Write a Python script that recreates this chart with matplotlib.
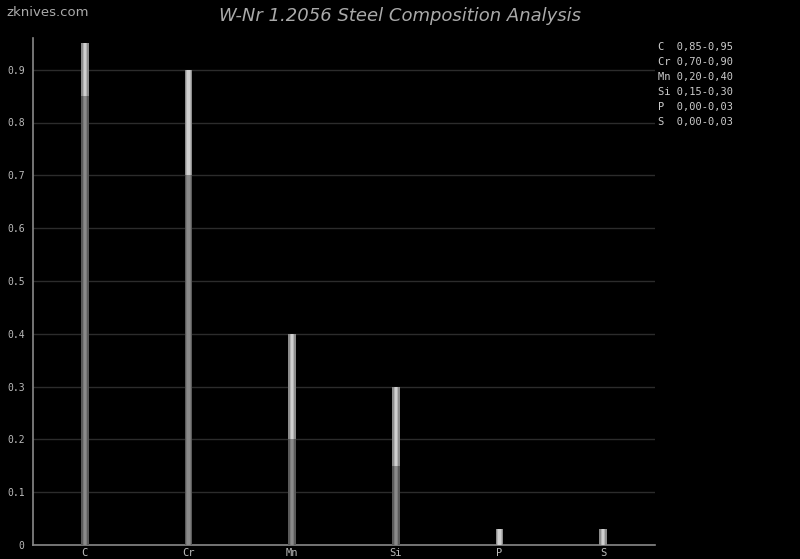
import matplotlib
matplotlib.use("Agg")
import matplotlib.pyplot as plt
import numpy as np

elements = ["C", "Cr", "Mn", "Si", "P", "S"]
min_vals = [0.85, 0.70, 0.20, 0.15, 0.00, 0.00]
max_vals = [0.95, 0.90, 0.40, 0.30, 0.03, 0.03]
legend_labels = ["C  0,85-0,95", "Cr 0,70-0,90", "Mn 0,20-0,40",
                 "Si 0,15-0,30", "P  0,00-0,03", "S  0,00-0,03"]
yticks = [0, 0.1, 0.2, 0.3, 0.4, 0.5, 0.6, 0.7, 0.8, 0.9]
ytick_labels = ["0", "0.1", "0.2", "0.3", "0.4", "0.5", "0.6", "0.7", "0.8", "0.9"]

fig = plt.figure(figsize=(8, 5.59), dpi=100, facecolor="black")
ax = fig.add_axes([33/800, 14/559, 622/800, (545-38)/559])
ax.set_facecolor("black")

x = np.arange(len(elements))
mins = np.array(min_vals)
ranges = np.array(max_vals) - mins

# lower (min) part, cylinder-like shading
ax.bar(x, mins, width=0.075, color="#5a5a5a", zorder=3)
ax.bar(x, mins, width=0.045, color="#7a7a7a", zorder=3)
ax.bar(x, mins, width=0.02, color="#8a8a8a", zorder=3)
# upper (range) part
ax.bar(x, ranges, bottom=mins, width=0.075, color="#8c8c8c", zorder=3)
ax.bar(x, ranges, bottom=mins, width=0.045, color="#b4b4b4", zorder=3)
ax.bar(x, ranges, bottom=mins, width=0.02, color="#cfcfcf", zorder=3)

ax.set_xlim(-0.5, len(elements) - 0.5)
ax.set_ylim(0, 0.96)
ax.set_yticks(yticks)
ax.set_yticklabels(ytick_labels)
ax.set_xticks(x)
ax.set_xticklabels(elements)
ax.grid(axis="y", color="#2c2c2c", linewidth=1.0, zorder=0)
for side in ["top", "right"]:
    ax.spines[side].set_visible(False)
for side in ["left", "bottom"]:
    ax.spines[side].set_color("#888888")
    ax.spines[side].set_linewidth(1.2)
ax.tick_params(axis="y", colors="#bbbbbb", length=0, labelsize=7, pad=6)
ax.tick_params(axis="x", colors="#bbbbbb", length=0, labelsize=7.5, pad=2)
for lbl in ax.get_xticklabels() + ax.get_yticklabels():
    lbl.set_family("DejaVu Sans Mono")

fig.text(0.5, 0.972, "W-Nr 1.2056 Steel Composition Analysis", ha="center", va="center",
         color="#aaaaaa", fontsize=13, style="italic")
fig.text(0.008, 0.978, "zknives.com", ha="left", va="center", color="#aaaaaa", fontsize=9.5)

for i, t in enumerate(legend_labels):
    fig.text(658/800, 1 - (47 + i*15)/559, t, ha="left", va="center",
             color="#cccccc", fontsize=7.5, family="DejaVu Sans Mono")

fig.savefig("out.png", dpi=100, facecolor="black")
